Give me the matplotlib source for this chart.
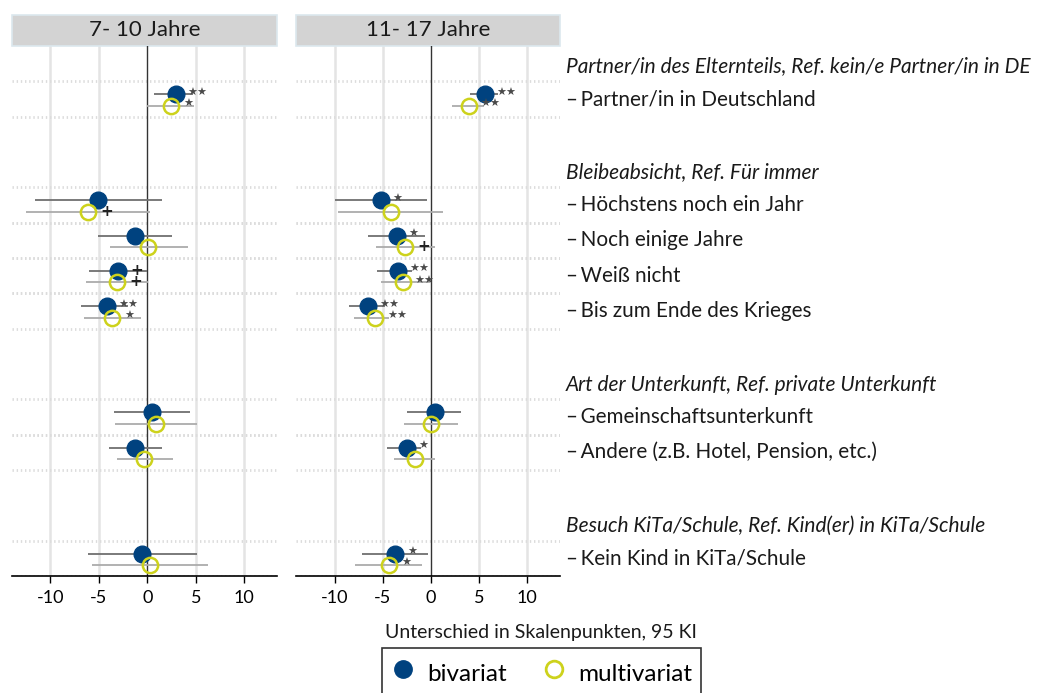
import numpy as np
import matplotlib
matplotlib.use("Agg")
import matplotlib.pyplot as plt
from matplotlib.lines import Line2D
from matplotlib.patches import Rectangle
from matplotlib.transforms import blended_transform_factory

plt.rcParams['font.family'] = ['Lato', 'DejaVu Sans']

# group headings and items (right-hand labels)
groups = ["Partner/in des Elternteils, Ref. kein/e Partner/in in DE",
          "Bleibeabsicht, Ref. Für immer",
          "Art der Unterkunft, Ref. private Unterkunft",
          "Besuch KiTa/Schule, Ref. Kind(er) in KiTa/Schule"]
items = ["Partner/in in Deutschland",
         "Höchstens noch ein Jahr",
         "Noch einige Jahre",
         "Weiß nicht",
         "Bis zum Ende des Krieges",
         "Gemeinschaftsunterkunft",
         "Andere (z.B. Hotel, Pension, etc.)",
         "Kein Kind in KiTa/Schule"]
item_group = [0, 1, 1, 1, 1, 2, 2, 3]

panels = ["7- 10 Jahre", "11- 17 Jahre"]

# 7-10 Jahre
young_bi = [2.9, -5.1, -1.3, -3.0, -4.2, 0.45, -1.3, -0.55]
young_bi_lo = [0.7, -11.6, -5.1, -6.0, -6.8, -3.45, -4.0, -6.1]
young_bi_hi = [4.7, 1.5, 2.5, 0.0, -2.0, 4.4, 1.5, 5.1]
young_bi_sig = ["**", "", "", "+", "**", "", "", ""]
young_mv = [2.45, -6.15, 0.05, -3.1, -3.6, 0.85, -0.3, 0.25]
young_mv_lo = [0.0, -12.5, -3.9, -6.35, -6.55, -3.35, -3.15, -5.7]
young_mv_hi = [4.85, 0.3, 4.15, 0.1, -0.7, 5.1, 2.65, 6.2]
young_mv_sig = ["*", "+", "", "+", "*", "", "", ""]

# 11-17 Jahre
old_bi = [5.6, -5.2, -3.55, -3.45, -6.55, 0.4, -2.5, -3.7]
old_bi_lo = [4.0, -10.0, -6.5, -5.55, -8.55, -2.45, -4.55, -7.15]
old_bi_hi = [7.0, -0.45, -0.65, -2.0, -4.8, 3.15, -1.0, -0.35]
old_bi_sig = ["**", "*", "*", "**", "**", "", "*", "*"]
old_mv = [3.9, -4.15, -2.7, -2.95, -5.8, 0.0, -1.7, -4.35]
old_mv_lo = [2.2, -9.6, -5.75, -5.15, -8.0, -2.8, -3.85, -7.85]
old_mv_hi = [5.5, 1.3, 0.45, -0.15, -4.3, 2.8, 0.45, -0.95]
old_mv_sig = ["**", "", "+", "**", "**", "", "", "*"]

xticks = [-10, -5, 0, 5, 10]

c_bi = '#00427f'
c_mv = '#cdd21c'

# row positions: heading, items, blank line between groups
head_row = []
item_row = []
r = 0
for g in range(len(groups)):
    if g > 0:
        r += 1
    head_row.append(r)
    r += 1
    for i, ig in enumerate(item_group):
        if ig == g:
            item_row.append(r)
            r += 1
n_rows = r
item_row = np.array(item_row, dtype=float)

fig = plt.figure(figsize=(10.41, 6.93), dpi=100)
ax_l = fig.add_axes([0.0112, 0.1688, 0.2552, 0.7648])
ax_r = fig.add_axes([0.2843, 0.1688, 0.2538, 0.7648])

data = [
    (young_bi, young_bi_lo, young_bi_hi, young_bi_sig, young_mv, young_mv_lo, young_mv_hi, young_mv_sig),
    (old_bi, old_bi_lo, old_bi_hi, old_bi_sig, old_mv, old_mv_lo, old_mv_hi, old_mv_sig),
]

off_bi = -0.13
off_mv = 0.19


def sig_label(ax, v, y, s):
    if not s:
        return
    if s == '+':
        ax.annotate('+', (v, y), xytext=(9, 0.5), textcoords='offset points',
                    ha='left', va='center', fontsize=11, fontweight='bold',
                    color='#222222', family='DejaVu Sans', zorder=6)
    else:
        ax.annotate(s.replace('*', '★'), (v, y), xytext=(8.5, 1.2), textcoords='offset points',
                    ha='left', va='center', fontsize=8,
                    color='#4a4a4a', family='DejaVu Sans', zorder=6)


for ax, title, d in zip([ax_l, ax_r], panels, data):
    bi, bi_lo, bi_hi, bi_sig, mv, mv_lo, mv_hi, mv_sig = d
    ax.set_xlim(-14, 13.4)
    ax.set_ylim(n_rows - 0.5, -0.5)

    for x in xticks:
        if x == 0:
            ax.axvline(0, color='#333333', lw=1.0, zorder=2)
        else:
            ax.axvline(x, color='#e4e4e4', lw=1.8, zorder=0)
    for yr in item_row:
        for yy in (yr - 0.5, yr + 0.5):
            ax.axhline(yy, color='#dcdcdc', lw=2, ls=(0, (0.5, 1.0)), zorder=0)

    yb = item_row + off_bi
    ym = item_row + off_mv
    ax.hlines(yb, bi_lo, bi_hi, color='#707070', lw=1.3, zorder=3)
    ax.hlines(ym, mv_lo, mv_hi, color='#ababab', lw=1.3, zorder=3)
    ax.plot(bi, yb, 'o', ms=12, color=c_bi, mec=c_bi, zorder=4)
    ax.plot(mv, ym, 'o', ms=11, mfc='none', mec=c_mv, mew=1.8, zorder=5)

    for v, y, s in zip(bi, yb, bi_sig):
        sig_label(ax, v, y, s)
    for v, y, s in zip(mv, ym, mv_sig):
        sig_label(ax, v, y, s)

    ax.set_xticks(xticks)
    ax.set_xticklabels([str(x) for x in xticks], fontsize=13)
    ax.set_yticks([])
    ax.tick_params(axis='x', length=5, width=1, color='black', pad=5)
    for sp in ['top', 'left', 'right']:
        ax.spines[sp].set_visible(False)
    ax.spines['bottom'].set_color('black')
    ax.spines['bottom'].set_linewidth(1.2)

    # panel header strip
    hdr = Rectangle((0, 1.0), 1, 0.059, transform=ax.transAxes, clip_on=False,
                    facecolor='#d3d3d3', edgecolor='#dce8ee', lw=1.2)
    ax.add_patch(hdr)
    ax.text(0.5, 1.0295, title, transform=ax.transAxes, ha='center', va='center',
            fontsize=16, color='#1a1a1a')

# labels on the right
tr = blended_transform_factory(fig.transFigure, ax_r.transData)
for g, hr in enumerate(head_row):
    ax_r.text(0.5437, hr + 0.08, groups[g], transform=tr, ha='left', va='center',
              fontsize=15, style='italic', color='#1a1a1a')
for lab, yr in zip(items, item_row):
    ax_r.text(0.5437, yr, "–\u2009" + lab, transform=tr, ha='left', va='center',
              fontsize=14.9, color='#1a1a1a')

fig.text(0.52, 0.0866, "Unterschied in Skalenpunkten, 95 KI", ha='center', va='center',
         fontsize=14, color='#1a1a1a')

handles = [Line2D([], [], ls='none', marker='o', ms=12.5, color=c_bi),
           Line2D([], [], ls='none', marker='o', ms=12, mfc='none', mec=c_mv, mew=2)]
leg = fig.legend(handles, ["bivariat", "multivariat"], loc='upper center',
                 bbox_to_anchor=(0.52, 0.065), ncol=2, frameon=True, fancybox=False,
                 fontsize=17.5, handletextpad=0.5, columnspacing=1.45,
                 borderpad=0.35, handlelength=1.0, handleheight=1.75, borderaxespad=0)
leg.get_frame().set_edgecolor('black')
leg.get_frame().set_linewidth(1.2)

fig.savefig("out.png", dpi=100)
